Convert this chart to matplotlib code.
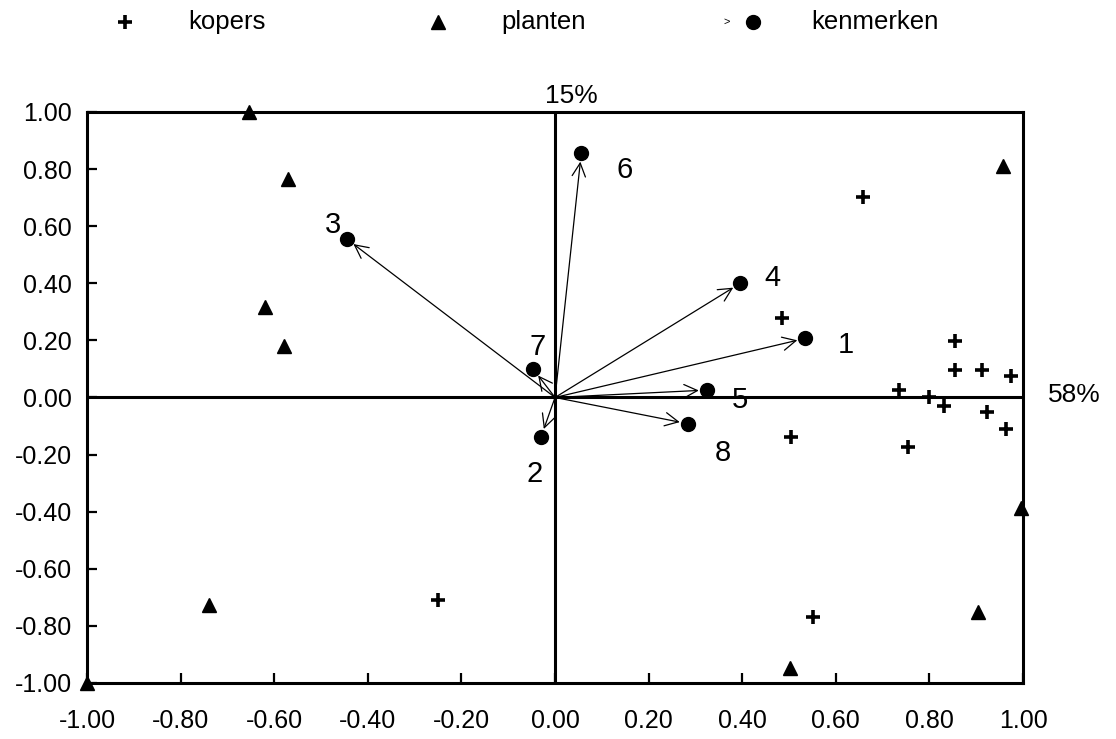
import matplotlib
matplotlib.use("Agg")
from matplotlib import pyplot as plt
import numpy as np

plt.rcParams["font.family"] = ["Liberation Sans", "DejaVu Sans"]

# kopers (+)
kopers_x = [0.657, 0.484, 0.855, 0.855, 0.913, 0.974, 0.735, 0.800, 0.831,
            0.922, 0.963, 0.504, 0.754, 0.551, -0.250]
kopers_y = [0.701, 0.277, 0.199, 0.096, 0.096, 0.075, 0.026, 0.000, -0.030,
            -0.050, -0.111, -0.137, -0.172, -0.768, -0.709]

# planten (triangles)
planten_x = [-0.655, -0.570, -0.620, -0.580, 0.957, 0.995, 0.903, 0.502, -0.740, -1.000]
planten_y = [1.000, 0.764, 0.318, 0.180, 0.811, -0.388, -0.750, -0.949, -0.727, -1.000]

# kenmerken (dots with arrows from origin)
kenmerk_labels = ["1", "2", "3", "4", "5", "6", "7", "8"]
kenmerk_x = [0.535, -0.030, -0.445, 0.396, 0.325, 0.056, -0.047, 0.284]
kenmerk_y = [0.207, -0.138, 0.555, 0.400, 0.026, 0.855, 0.100, -0.092]
# where the number labels sit
label_x = [0.621, -0.044, -0.474, 0.464, 0.396, 0.149, -0.037, 0.359]
label_y = [0.184, -0.268, 0.604, 0.418, -0.010, 0.797, 0.178, -0.195]

ticks = np.round(np.arange(-1.0, 1.01, 0.2), 2)
tick_labels = ["-1.00", "-0.80", "-0.60", "-0.40", "-0.20", "0.00",
               "0.20", "0.40", "0.60", "0.80", "1.00"]

fig = plt.figure(figsize=(11.16, 7.39), dpi=100)
ax = fig.add_axes([0.078, 0.0758, 0.8387, 0.7727])
ax.set_xlim(-1, 1)
ax.set_ylim(-1, 1)

for s in ax.spines.values():
    s.set_linewidth(2.2)
ax.axhline(0, color="black", lw=2.2, zorder=1)
ax.axvline(0, color="black", lw=2.2, zorder=1)

ax.set_xticks(ticks)
ax.set_xticklabels(tick_labels)
ax.set_yticks(ticks)
ax.set_yticklabels(tick_labels)
ax.tick_params(axis="both", direction="in", length=7, width=1.6, labelsize=18)
ax.tick_params(axis="x", pad=19)
ax.tick_params(axis="y", pad=11)

# arrows
for x, y in zip(kenmerk_x, kenmerk_y):
    ax.annotate("", xy=(x, y), xytext=(0, 0),
                arrowprops=dict(arrowstyle="->", lw=0.9, color="black",
                                shrinkA=0, shrinkB=6, mutation_scale=24),
                zorder=2)

ax.plot(kopers_x, kopers_y, linestyle="none", marker="+", ms=10, mew=2.6,
        color="black", clip_on=False, zorder=3)
ax.plot(planten_x, planten_y, linestyle="none", marker="^", ms=10,
        color="black", clip_on=False, zorder=3)
ax.plot(kenmerk_x, kenmerk_y, linestyle="none", marker="o", ms=10,
        color="black", zorder=4)

for lab, x, y in zip(kenmerk_labels, label_x, label_y):
    ax.text(x, y, lab, fontsize=21, ha="center", va="center")

ax.text(1.109, 0.009, "58%", fontsize=19, ha="center", va="center", clip_on=False)
ax.text(0.035, 1.055, "15%", fontsize=19, ha="center", va="center", clip_on=False)

# legend row on top
ly = 0.9706
fig.lines.append(plt.Line2D([0.1116], [ly], transform=fig.transFigure, marker="+",
                            ms=10, mew=2.6, color="black", linestyle="none"))
fig.lines.append(plt.Line2D([0.3922], [ly], transform=fig.transFigure, marker="^",
                            ms=10, color="black", linestyle="none"))
fig.lines.append(plt.Line2D([0.6747], [ly], transform=fig.transFigure, marker="o",
                            ms=10, color="black", linestyle="none"))
fig.text(0.6514, ly, ">", fontsize=8, ha="center", va="center")
fig.text(0.169, ly, "kopers", fontsize=18.5, ha="left", va="center")
fig.text(0.4495, ly, "planten", fontsize=18.5, ha="left", va="center")
fig.text(0.7267, ly, "kenmerken", fontsize=18.5, ha="left", va="center")

fig.savefig("out.png", dpi=100)
